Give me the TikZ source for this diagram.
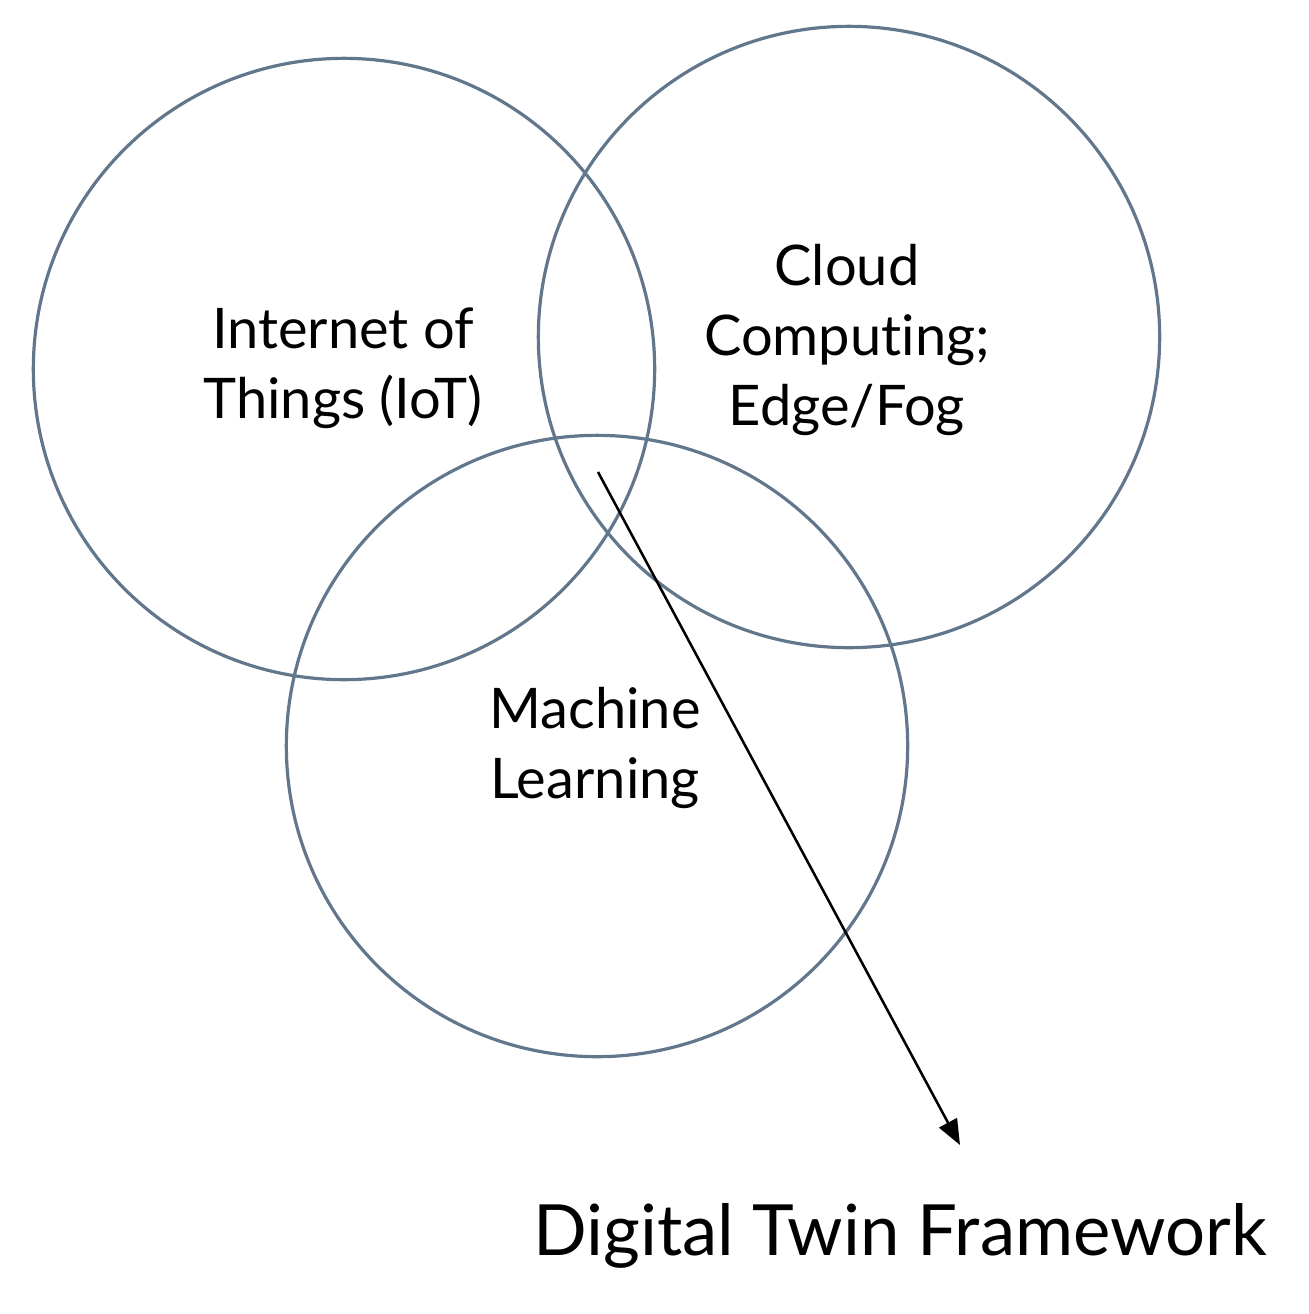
\documentclass[tikz,border=0pt]{standalone}
\usepackage{fontspec}
\setmainfont[Ligatures=NoCommon]{Lato}
\usetikzlibrary{arrows.meta}

\tikzset{every picture/.style={line width=0.75pt}}
\definecolor{ringblue}{RGB}{98,118,140}
\tikzset{
  ring/.style={draw=ringblue, line width=2.4pt, circle, minimum size=466pt, inner sep=0pt},
  ringlabel/.style={align=center, font=\fontsize{42}{52.5}\selectfont, inner sep=0pt},
}

\begin{document}
\begin{tikzpicture}[x=0.75pt,y=0.75pt,yscale=-1,xscale=1]
\useasboundingbox (0,0) rectangle (1309,1314);

%Shape: Circle [id:iot]
\node[ring] (iot) at (344,369) {};
%Shape: Circle [id:cloud]
\node[ring] (cloud) at (849,337) {};
%Shape: Circle [id:ml]
\node[ring] (ml) at (597,746) {};

%Text Node
\node[ringlabel] (iotlabel) at (343,368) {Internet of\\Things (IoT)};
%Text Node
\node[ringlabel] (cloudlabel) at (847,340) {Cloud\\Computing;\\Edge/Fog};
%Text Node
\node[ringlabel] (mllabel) at (595,748) {Machine\\Learning};

%Text Node
\node[font=\fontsize{53}{60}\selectfont, inner sep=0pt] (dtf) at (900,1236) {Digital Twin Framework};

%Straight Lines [id:arrow]
\coordinate (dtstart) at (598,472);
\coordinate (dttip) at (960,1145);
\draw[line width=1.9pt, -{Triangle[length=19pt,width=15pt]}] (dtstart) -- (dttip);

\end{tikzpicture}
\end{document}
